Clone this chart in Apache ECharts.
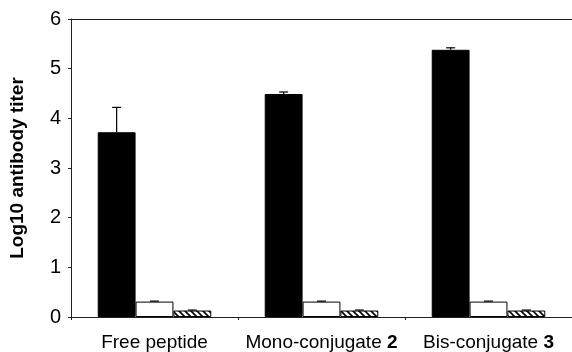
<!DOCTYPE html>
<html>
<head>
<meta charset="utf-8">
<script src="https://cdn.jsdelivr.net/npm/echarts@6/dist/echarts.min.js"></script>
<style>
html,body{margin:0;padding:0;background:#fff;}
#chart{width:572px;height:352px;}
</style>
</head>
<body>
<div id="chart"></div>
<script>
var categories = ["Free peptide", "Mono-conjugate 2", "Bis-conjugate 3"];
var blackValues = [3.72, 4.49, 5.38];
var blackErrors = [0.50, 0.04, 0.04];
var whiteValues = [0.31, 0.31, 0.31];
var whiteErrors = [0.01, 0.01, 0.01];
var hatchValues = [0.13, 0.13, 0.13];
var hatchErrors = [0.01, 0.01, 0.01];
var yTicks = [0, 1, 2, 3, 4, 5, 6];

var fontName = "'Liberation Sans', Arial, sans-serif";
var axisColor = "#222";

// diagonal hatch pattern
function makeHatch() {
    var c = document.createElement("canvas");
    c.width = 6; c.height = 6;
    var ctx = c.getContext("2d");
    ctx.fillStyle = "#fff";
    ctx.fillRect(0, 0, 6, 6);
    ctx.strokeStyle = "#000";
    ctx.lineWidth = 1.6;
    ctx.beginPath();
    ctx.moveTo(-1, -1); ctx.lineTo(7, 7);
    ctx.moveTo(-4, 2); ctx.lineTo(4, 10);
    ctx.moveTo(2, -4); ctx.lineTo(10, 4);
    ctx.stroke();
    return c;
}

function labelFormatter(value) {
    var m = value.match(/^(.*) (\d)$/);
    if (m) return m[1] + " {b|" + m[2] + "}";
    return value;
}

// error bar, idx: 0 black, 1 white, 2 hatched
function errorSeries(values, errors, idx) {
    var data = [];
    for (var i = 0; i < values.length; i++) {
        data.push([i, values[i], values[i] + errors[i]]);
    }
    return {
        type: "custom",
        z: 5,
        data: data,
        renderItem: function (params, api) {
            var band = api.size([1, 0])[0];
            var barW = band * (1 - 0.32) / 3;
            var base = api.coord([api.value(0), api.value(1)]);
            var top = api.coord([api.value(0), api.value(2)]);
            var x = base[0] + (idx - 1) * barW;
            var style = {stroke: "#000", lineWidth: 1.2};
            return {
                type: "group",
                children: [
                    {type: "line", shape: {x1: x, y1: base[1], x2: x, y2: top[1]}, style: style},
                    {type: "line", shape: {x1: x - 4.5, y1: top[1], x2: x + 4.5, y2: top[1]}, style: style}
                ]
            };
        }
    };
}

var option = {
    animation: false,
    backgroundColor: "#fff",
    grid: {left: 71, top: 19, bottom: 35, right: -11},
    xAxis: [{
        type: "category",
        data: categories,
        axisLine: {lineStyle: {color: axisColor, width: 1}},
        axisTick: {show: true, length: 3, lineStyle: {color: axisColor}},
        axisLabel: {
            interval: 0,
            hideOverlap: false,
            margin: 16,
            color: "#000",
            fontFamily: fontName,
            fontSize: 19,
            formatter: labelFormatter,
            rich: {b: {fontWeight: "bold", fontSize: 19, fontFamily: fontName, color: "#000"}}
        }
    }, {
        type: "category",
        position: "top",
        data: categories,
        axisLine: {lineStyle: {color: axisColor, width: 1}},
        axisTick: {show: false},
        axisLabel: {show: false}
    }],
    yAxis: {
        type: "value",
        min: 0,
        max: 6,
        interval: 1,
        name: "Log10 antibody titer",
        nameLocation: "middle",
        nameGap: 44,
        nameTextStyle: {fontFamily: fontName, fontSize: 19, fontWeight: "bold", color: "#000"},
        axisLine: {show: true, lineStyle: {color: axisColor, width: 1}},
        axisTick: {show: true, length: 3, lineStyle: {color: axisColor}},
        axisLabel: {
            margin: 10,
            color: "#000",
            fontFamily: fontName,
            fontSize: 20,
            formatter: function (v) { return yTicks.indexOf(v) >= 0 ? String(v) : ""; }
        },
        splitLine: {show: false}
    },
    series: [
        {
            type: "bar",
            data: blackValues,
            barGap: 0,
            barCategoryGap: "32%",
            itemStyle: {color: "#000", borderColor: "#000", borderWidth: 1}
        },
        {
            type: "bar",
            data: whiteValues,
            barGap: 0,
            barCategoryGap: "32%",
            itemStyle: {color: "#fff", borderColor: "#000", borderWidth: 1}
        },
        {
            type: "bar",
            data: hatchValues,
            barGap: 0,
            barCategoryGap: "32%",
            itemStyle: {color: {image: makeHatch(), repeat: "repeat"}, borderColor: "#000", borderWidth: 1}
        },
        errorSeries(blackValues, blackErrors, 0),
        errorSeries(whiteValues, whiteErrors, 1),
        errorSeries(hatchValues, hatchErrors, 2)
    ]
};

var chart = echarts.init(document.getElementById("chart"), null, {renderer: "canvas"});
chart.setOption(option);
</script>
</body>
</html>
